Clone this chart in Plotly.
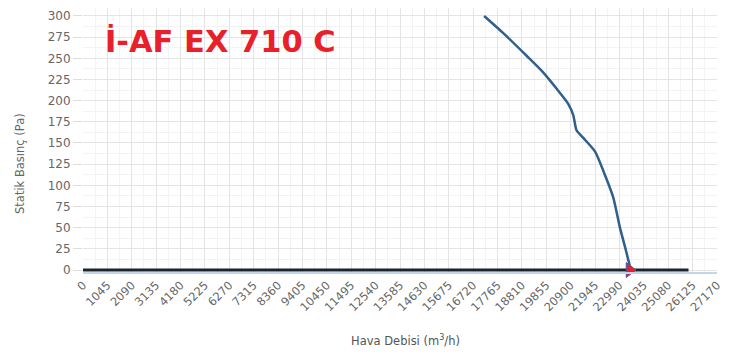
import plotly.graph_objects as go

# Data
x_ticks = [0, 1045, 2090, 3135, 4180, 5225, 6270, 7315, 8360, 9405, 10450, 11495,
           12540, 13585, 14630, 15675, 16720, 17765, 18810, 19855, 20900, 21945,
           22990, 24035, 25080, 26125, 27170]
y_ticks = [0, 25, 50, 75, 100, 125, 150, 175, 200, 225, 250, 275, 300]

curve_flow = [17190, 18000, 19010, 19700, 20300, 20800, 21010, 21150, 21440, 21940,
              22300, 22720, 23010, 23250, 23440, 23480]
curve_pressure = [300, 280, 253, 234, 214, 196, 183, 165, 156, 140,
                  117, 86, 50, 25, 4, 0]

base_flow = [0, 25950]
base_pressure = [0, 0]

op_flow = [23420]
op_pressure = [0]

TICK_FONT = "DejaVu Sans"

fig = go.Figure()
fig.add_trace(go.Scatter(x=base_flow, y=base_pressure, mode="lines",
                         line=dict(color="#1f2429", width=3), showlegend=False,
                         hoverinfo="skip", cliponaxis=False))
fig.add_trace(go.Scatter(x=curve_flow, y=curve_pressure, mode="lines",
                         line=dict(color="#2f5f8a", width=2.5, shape="spline", smoothing=0.6),
                         showlegend=False, cliponaxis=False))
fig.add_trace(go.Scatter(x=op_flow, y=op_pressure, mode="markers",
                         marker=dict(symbol="triangle-right", size=13, color="#e8202a",
                                     line=dict(color="#3b5fb0", width=1)),
                         showlegend=False, cliponaxis=False))

fig.add_annotation(text="<b>İ-AF EX 710 C</b>", xref="paper", yref="paper",
                   x=0.032, y=0.875, xanchor="left", yanchor="middle", showarrow=False,
                   font=dict(family="DejaVu Sans", size=30.5, color="#e8202a"))
fig.add_annotation(text="Hava Debisi (m<sup>3</sup>/h)", xref="paper", yref="paper",
                   x=0.508, y=-0.258, xanchor="center", yanchor="middle", showarrow=False,
                   font=dict(family=TICK_FONT, size=11.5, color="#555555"))
fig.add_annotation(text="Statik Basınç (Pa)", xref="paper", yref="paper",
                   x=-0.0994, y=0.413, xanchor="center", yanchor="middle", showarrow=False,
                   textangle=-90,
                   font=dict(family=TICK_FONT, size=11.5, color="#666666"))

fig.update_layout(
    width=723, height=350,
    margin=dict(l=75, r=14, t=0, b=86),
    paper_bgcolor="white", plot_bgcolor="white",
    font=dict(family=TICK_FONT, color="#777777"),
)
fig.update_xaxes(
    range=[0, 27170], tickvals=x_ticks, ticktext=[str(v) for v in x_ticks],
    tickangle=-45, tickfont=dict(family=TICK_FONT, size=11.5, color="#666666"),
    ticklabeloverflow="allow",
    showgrid=True, gridcolor="#e4e4e4", gridwidth=1,
    showline=True, linecolor="#c5d6ea", linewidth=2,
    zeroline=False, automargin=False,
    minor=dict(showgrid=True, gridcolor="#f3f3f3", dtick=522.5),
)
fig.update_yaxes(
    range=[-2.36, 309.4], tickvals=y_ticks,
    tickfont=dict(family=TICK_FONT, size=12, color="#666666"),
    ticklabeloverflow="allow",
    showgrid=True, gridcolor="#e4e4e4", gridwidth=1,
    ticks="outside", ticklen=9, tickcolor="#dddddd",
    showline=False, zeroline=False, automargin=False,
    minor=dict(showgrid=True, gridcolor="#f3f3f3", dtick=12.5),
)

fig.write_html("out.html")
